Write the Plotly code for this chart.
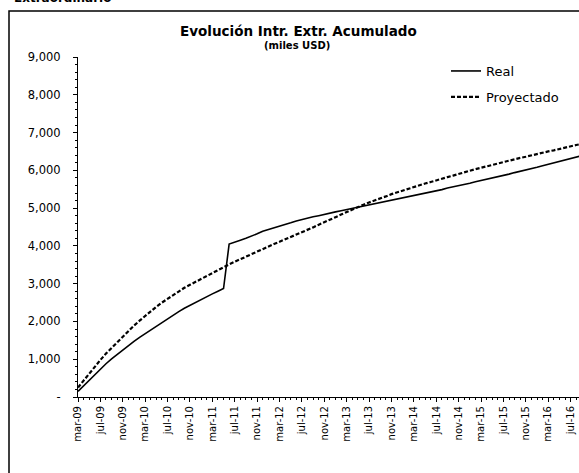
import plotly.graph_objects as go

MONTHS = ["ene", "feb", "mar", "abr", "may", "jun", "jul", "ago", "sep", "oct", "nov", "dic"]
years = ["09", "10", "11", "12", "13", "14", "15", "16"]
categories = []
for y in years:
    for mname in MONTHS:
        categories.append(f"{mname}-{y}")
categories = categories[2:2 + 91]  # mar-09 ... sep-16

real = [150, 300, 450, 600, 740, 880, 1010, 1130, 1250, 1360,
        1470, 1580, 1680, 1780, 1880, 1980, 2080, 2170, 2260, 2350,
        2430, 2510, 2580, 2660, 2730, 2800, 2870, 4050, 4110, 4150,
        4200, 4250, 4320, 4390, 4430, 4480, 4520, 4570, 4610, 4660,
        4700, 4730, 4770, 4800, 4840, 4870, 4900, 4930, 4960, 4990,
        5020, 5050, 5080, 5110, 5140, 5170, 5200, 5230, 5260, 5290,
        5320, 5350, 5390, 5420, 5450, 5490, 5530, 5560, 5600, 5630,
        5660, 5700, 5730, 5760, 5790, 5830, 5870, 5900, 5940, 5970,
        6010, 6040, 6080, 6120, 6160, 6200, 6240, 6280, 6320, 6350,
        6390]

proyectado = [250, 440, 620, 800, 980, 1150, 1300, 1450, 1600, 1750,
              1890, 2020, 2150, 2270, 2390, 2500, 2600, 2700, 2800, 2890,
              2970, 3050, 3130, 3210, 3290, 3370, 3440, 3510, 3580, 3650,
              3720, 3790, 3860, 3920, 3980, 4050, 4110, 4170, 4240, 4300,
              4360, 4430, 4490, 4560, 4620, 4690, 4760, 4830, 4900, 4960,
              5030, 5090, 5150, 5200, 5260, 5310, 5370, 5420, 5470, 5520,
              5560, 5610, 5650, 5690, 5740, 5780, 5820, 5860, 5910, 5950,
              5990, 6030, 6070, 6110, 6140, 6180, 6220, 6250, 6290, 6330,
              6360, 6400, 6430, 6470, 6500, 6530, 6570, 6600, 6630, 6670,
              6700]

y_tickvals = [0, 1000, 2000, 3000, 4000, 5000, 6000, 7000, 8000, 9000]
y_ticktext = ["-", "1,000", "2,000", "3,000", "4,000", "5,000", "6,000", "7,000", "8,000", "9,000"]

idx = list(range(len(categories)))
x_tickvals = idx[::4]
x_ticktext = categories[::4]

FONT = "DejaVu Sans, Verdana, sans-serif"

fig = go.Figure()
fig.add_trace(go.Scatter(x=idx, y=real, mode="lines", name="Real", legendgroup="a",
                         line=dict(color="black", width=1.6)))
fig.add_trace(go.Scatter(x=idx, y=proyectado, mode="lines", name="Proyectado", legendgroup="b",
                         line=dict(color="black", width=2.2, dash="4px,2px")))

fig.update_layout(
    width=579, height=473,
    margin=dict(l=78, r=0, t=57, b=76, autoexpand=False),
    paper_bgcolor="white", plot_bgcolor="white",
    font=dict(family=FONT, color="black"),
    showlegend=True,
    legend=dict(x=(446 - 78) / 501, y=(397 - 56) / 340, xanchor="left", yanchor="top",
                bgcolor="rgba(0,0,0,0)", font=dict(size=13, family=FONT),
                tracegroupgap=6, itemwidth=30),
    xaxis=dict(range=[0, 89.5], tickmode="array", tickvals=x_tickvals, ticktext=x_ticktext,
               tickangle=-90, tickfont=dict(size=10, family=FONT),
               showgrid=False, zeroline=False, showline=True, linecolor="black", linewidth=1,
               ticks="outside", ticklen=4, tickcolor="black",
               minor=dict(dtick=1, ticks="outside", ticklen=2, tickcolor="black", showgrid=False)),
    yaxis=dict(range=[0, 9000], tickmode="array", tickvals=y_tickvals, ticktext=y_ticktext,
               tickfont=dict(size=11.5, family=FONT), ticklabelstandoff=10,
               showgrid=False, zeroline=False, showline=True, linecolor="black", linewidth=1,
               ticks="outside", ticklen=4, tickcolor="black",
               minor=dict(dtick=200, ticks="outside", ticklen=2, tickcolor="black", showgrid=False)),
)

# outer frame of the scanned box
fig.add_shape(type="rect", xref="paper", yref="paper",
              x0=(9 - 78) / 501, x1=1.2, y0=-0.4, y1=(397 - 11) / 340,
              line=dict(color="black", width=1.5), fillcolor="rgba(0,0,0,0)", layer="below")

fig.add_annotation(text="<b>Evolución Intr. Extr. Acumulado</b>", xref="paper", yref="paper",
                   x=(298 - 78) / 501, y=(397 - 31) / 340, showarrow=False,
                   font=dict(size=13.5, family=FONT), xanchor="center", yanchor="middle")
fig.add_annotation(text="<b>(miles USD)</b>", xref="paper", yref="paper",
                   x=(297 - 78) / 501, y=(397 - 46) / 340, showarrow=False,
                   font=dict(size=10, family=FONT), xanchor="center", yanchor="middle")
fig.add_annotation(text="<b>Extraordinario</b>", xref="paper", yref="paper",
                   x=(12 - 78) / 501, y=(397 - 7) / 340, showarrow=False,
                   font=dict(size=12, family=FONT), xanchor="left", yanchor="bottom")

fig.write_html("out.html", config={"displayModeBar": False},
               post_script="document.body.style.margin='0';document.body.style.overflow='hidden';")
